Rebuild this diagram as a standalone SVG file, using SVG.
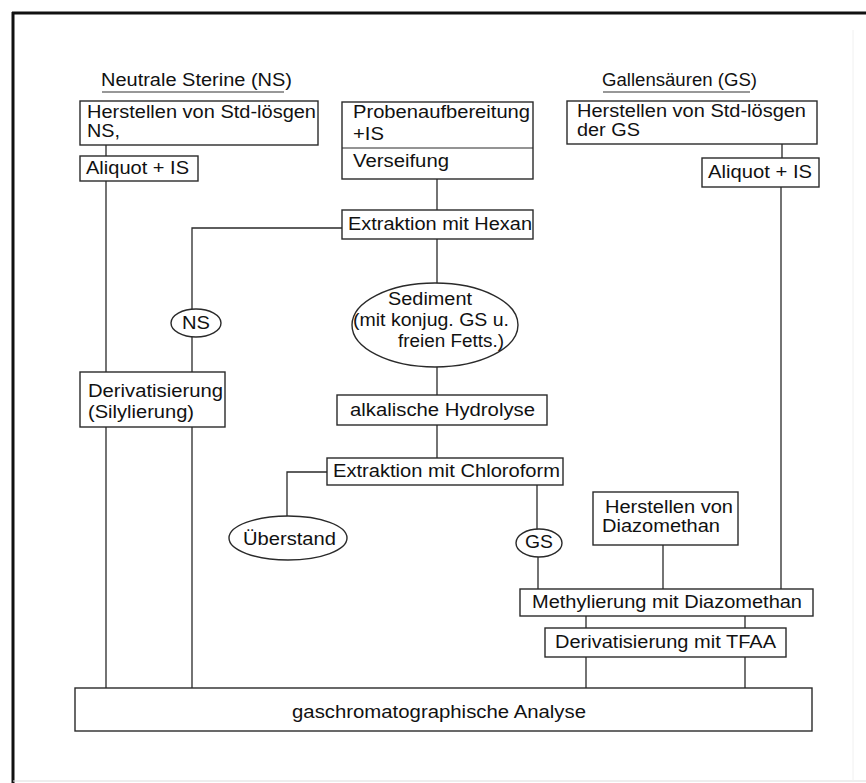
<svg xmlns="http://www.w3.org/2000/svg" width="866" height="783" viewBox="0 0 866 783">
<style>
text{font-family:"Liberation Sans",Arial,sans-serif;font-size:17.5px;fill:#111}
.b{fill:#fff;stroke:#2a2a2a;stroke-width:1.4}
.c{fill:none;stroke:#2a2a2a;stroke-width:1.3}
</style>
<rect x="0" y="0" width="866" height="783" fill="#fff"/>
<g id="frame">
<line x1="12" y1="13" x2="866" y2="13" stroke="#111" stroke-width="3"/>
<line x1="13" y1="12" x2="13" y2="783" stroke="#111" stroke-width="3"/>
<line x1="13" y1="781" x2="866" y2="781" stroke="#dddddd" stroke-width="1"/>
<line x1="853" y1="30" x2="853" y2="781" stroke="#f0f0f0" stroke-width="1"/>
</g>
<g id="connectors">
<path class="c" d="M106 145V156M106 181V688"/>
<path class="c" d="M437 179V210M437 239V283M437 367V395M437 425V458"/>
<path class="c" d="M342 228H192V309M192 337V372M192 427V688"/>
<path class="c" d="M327 472H287V516"/>
<path class="c" d="M537 485V529M538 557V589"/>
<path class="c" d="M663 545V589"/>
<path class="c" d="M782 144V158M781 187V589"/>
<path class="c" d="M586 616V628M745 616V628M586 657V688M745 657V688"/>
</g>
<g id="title-ns">
<text x="101" y="86" textLength="191" lengthAdjust="spacingAndGlyphs">Neutrale Sterine (NS)</text>
<line x1="102" y1="92" x2="284" y2="92" stroke="#333" stroke-width="1.2"/>
</g>
<g id="title-gs">
<text x="602" y="86" textLength="155" lengthAdjust="spacingAndGlyphs">Gallensäuren (GS)</text>
<line x1="603" y1="92" x2="750" y2="92" stroke="#333" stroke-width="1.2"/>
</g>
<g id="std-ns">
<rect class="b" x="80" y="101" width="238" height="44"/>
<text x="87" y="118" textLength="229" lengthAdjust="spacingAndGlyphs">Herstellen von Std-lösgen</text>
<text x="87" y="137" textLength="33" lengthAdjust="spacingAndGlyphs">NS,</text>
</g>
<g id="aliquot-ns">
<rect class="b" x="80" y="156" width="118" height="25"/>
<text x="86" y="174" textLength="103" lengthAdjust="spacingAndGlyphs">Aliquot + IS</text>
</g>
<g id="probe">
<rect class="b" x="342" y="102" width="191" height="77"/>
<line x1="342" y1="148" x2="533" y2="148" stroke="#2a2a2a" stroke-width="1.2"/>
<text x="353" y="118" textLength="177" lengthAdjust="spacingAndGlyphs">Probenaufbereitung</text>
<text x="353" y="140" textLength="31" lengthAdjust="spacingAndGlyphs">+IS</text>
<text x="353" y="167" textLength="96" lengthAdjust="spacingAndGlyphs">Verseifung</text>
</g>
<g id="std-gs">
<rect class="b" x="567" y="101" width="250" height="43"/>
<text x="577" y="117" textLength="229" lengthAdjust="spacingAndGlyphs">Herstellen von Std-lösgen</text>
<text x="577" y="136" textLength="63" lengthAdjust="spacingAndGlyphs">der GS</text>
</g>
<g id="aliquot-gs">
<rect class="b" x="702" y="158" width="117" height="29"/>
<text x="708" y="178" textLength="104" lengthAdjust="spacingAndGlyphs">Aliquot + IS</text>
</g>
<g id="hexan">
<rect class="b" x="342" y="210" width="191" height="29"/>
<text x="348" y="230" textLength="184" lengthAdjust="spacingAndGlyphs">Extraktion mit Hexan</text>
</g>
<g id="ns">
<ellipse class="b" cx="196" cy="323" rx="25" ry="14"/>
<text x="182" y="329" textLength="28" lengthAdjust="spacingAndGlyphs">NS</text>
</g>
<g id="sediment">
<ellipse class="b" cx="435" cy="325" rx="83" ry="42"/>
<text x="388" y="305" textLength="84" lengthAdjust="spacingAndGlyphs">Sediment</text>
<text x="353" y="326" textLength="156" lengthAdjust="spacingAndGlyphs">(mit konjug. GS u.</text>
<text x="398" y="347" textLength="106" lengthAdjust="spacingAndGlyphs">freien Fetts.)</text>
</g>
<g id="silyl">
<rect class="b" x="80" y="372" width="145" height="55"/>
<text x="88" y="397" textLength="135" lengthAdjust="spacingAndGlyphs">Derivatisierung</text>
<text x="88" y="418" textLength="106" lengthAdjust="spacingAndGlyphs">(Silylierung)</text>
</g>
<g id="hydrolyse">
<rect class="b" x="337" y="395" width="210" height="30"/>
<text x="350" y="416" textLength="185" lengthAdjust="spacingAndGlyphs">alkalische Hydrolyse</text>
</g>
<g id="chloroform">
<rect class="b" x="327" y="458" width="236" height="27"/>
<text x="333" y="477" textLength="227" lengthAdjust="spacingAndGlyphs">Extraktion mit Chloroform</text>
</g>
<g id="ueberstand">
<ellipse class="b" cx="288" cy="538" rx="59" ry="22"/>
<text x="243" y="545" textLength="93" lengthAdjust="spacingAndGlyphs">Überstand</text>
</g>
<g id="gs">
<ellipse class="b" cx="539" cy="543" rx="23" ry="14"/>
<text x="525" y="548" textLength="28" lengthAdjust="spacingAndGlyphs">GS</text>
</g>
<g id="diazomethan">
<rect class="b" x="593" y="492" width="145" height="53"/>
<text x="605" y="513" textLength="128" lengthAdjust="spacingAndGlyphs">Herstellen von</text>
<text x="602" y="532" textLength="118" lengthAdjust="spacingAndGlyphs">Diazomethan</text>
</g>
<g id="methylierung">
<rect class="b" x="520" y="589" width="293" height="27"/>
<text x="532" y="608" textLength="270" lengthAdjust="spacingAndGlyphs">Methylierung mit Diazomethan</text>
</g>
<g id="tfaa">
<rect class="b" x="545" y="628" width="241" height="29"/>
<text x="555" y="648" textLength="221" lengthAdjust="spacingAndGlyphs">Derivatisierung mit TFAA</text>
</g>
<g id="gc">
<rect class="b" x="75" y="688" width="737" height="43"/>
<text x="292" y="718" textLength="294" lengthAdjust="spacingAndGlyphs">gaschromatographische Analyse</text>
</g>
</svg>
